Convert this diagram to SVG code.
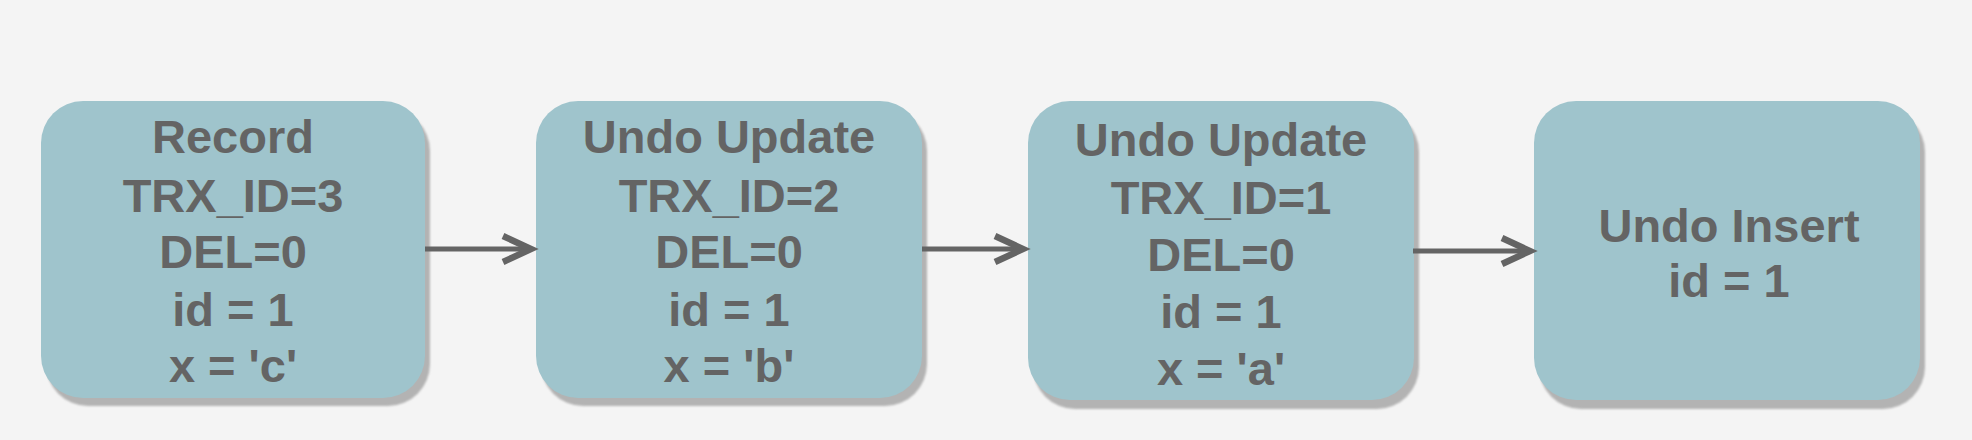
<svg xmlns="http://www.w3.org/2000/svg" width="1972" height="440" viewBox="0 0 1972 440">
<style>
.box{fill:#9fc4cc}
.shadow{fill:#b3b3b3}
.t{font-family:"Liberation Sans",Arial,sans-serif;font-weight:bold;font-size:47px;fill:#646464;text-anchor:middle}
.conn{stroke:#646464;stroke-width:5;fill:none}
</style>
<defs>
<filter id="blur" x="-5%" y="-5%" width="110%" height="110%"><feGaussianBlur stdDeviation="1"/></filter>
<marker id="arr" markerUnits="userSpaceOnUse" markerWidth="40" markerHeight="40" refX="31" refY="15" orient="auto" viewBox="0 0 40 30">
<path d="M2,2 L30,15 L2,28" fill="none" stroke="#646464" stroke-width="6.5"/>
</marker>
</defs>
<rect width="1972" height="440" fill="#f4f4f4"/>
<g id="node1">
<rect class="shadow" x="46" y="109" width="384" height="297" rx="42" filter="url(#blur)"/>
<rect class="box" x="41" y="101" width="384" height="297" rx="42"/>
<text class="t" x="233" y="153">Record</text>
<text class="t" x="233" y="212">TRX_ID=3</text>
<text class="t" x="233" y="268">DEL=0</text>
<text class="t" x="233" y="326">id = 1</text>
<text class="t" x="233" y="382">x = 'c'</text>
</g>
<g id="node2">
<rect class="shadow" x="541" y="109" width="386" height="297" rx="42" filter="url(#blur)"/>
<rect class="box" x="536" y="101" width="386" height="297" rx="42"/>
<text class="t" x="729" y="153">Undo Update</text>
<text class="t" x="729" y="212">TRX_ID=2</text>
<text class="t" x="729" y="268">DEL=0</text>
<text class="t" x="729" y="326">id = 1</text>
<text class="t" x="729" y="382">x = 'b'</text>
</g>
<g id="node3">
<rect class="shadow" x="1033" y="110" width="386" height="299" rx="42" filter="url(#blur)"/>
<rect class="box" x="1028" y="101" width="386" height="299" rx="42"/>
<text class="t" x="1221" y="156">Undo Update</text>
<text class="t" x="1221" y="214">TRX_ID=1</text>
<text class="t" x="1221" y="271">DEL=0</text>
<text class="t" x="1221" y="328">id = 1</text>
<text class="t" x="1221" y="385">x = 'a'</text>
</g>
<g id="node4">
<rect class="shadow" x="1539" y="110" width="386" height="299" rx="42" filter="url(#blur)"/>
<rect class="box" x="1534" y="101" width="386" height="299" rx="42"/>
<text class="t" x="1729" y="242">Undo Insert</text>
<text class="t" x="1729" y="297">id = 1</text>
</g>
<g id="connectors">
<line class="conn" x1="425" y1="249" x2="532" y2="249" marker-end="url(#arr)"/>
<line class="conn" x1="922" y1="249" x2="1024" y2="249" marker-end="url(#arr)"/>
<line class="conn" x1="1413" y1="251" x2="1531" y2="251" marker-end="url(#arr)"/>
</g>
</svg>
